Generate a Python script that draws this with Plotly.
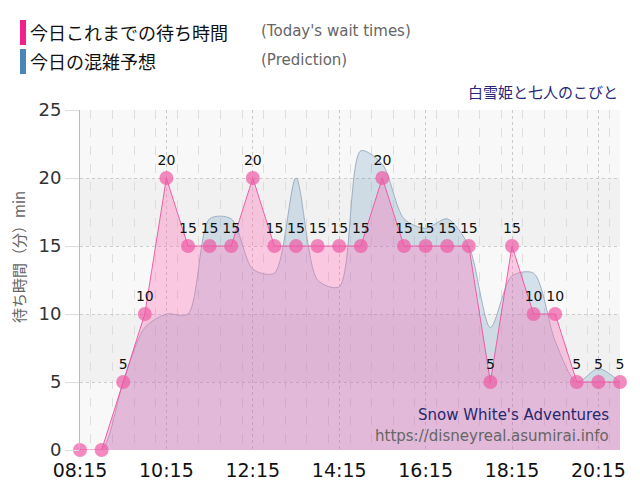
import plotly.graph_objects as go

# 30分ごとの時刻
times = ["08:15", "08:45", "09:15", "09:45", "10:15", "10:45", "11:15", "11:45",
         "12:15", "12:45", "13:15", "13:45", "14:15", "14:45", "15:15", "15:45",
         "16:15", "16:45", "17:15", "17:45", "18:15", "18:45", "19:15", "19:45",
         "20:15", "20:45"]

# 今日これまでの待ち時間
actual = [0, 0, 5, 10, 20, 15, 15, 15, 20, 15, 15, 15, 15, 15, 20, 15,
          15, 15, 15, 5, 15, 10, 10, 5, 5, 5]

# 今日の混雑予想
predict = [0, 0, 5, 9, 10, 10, 17, 17, 13.3, 13, 20, 12.5, 12, 22, 21, 17,
           16.3, 17, 15, 9, 12.8, 13, 8, 5, 6, 5]

x = ["2024-01-01 " + t for t in times]
labels = [str(v) if v else "" for v in actual]

FONT = "DejaVu Sans"
JP = "Noto Sans CJK JP"

fig = go.Figure()

# 予想（スプライン）
fig.add_trace(go.Scatter(
    x=x, y=predict, mode="lines", line=dict(shape="spline", smoothing=0.8,
                                            color="rgba(150,168,190,0.9)", width=1),
    fill="tozeroy", fillcolor="rgba(70,130,180,0.2)", hoverinfo="skip",
))

# 実績
fig.add_trace(go.Scatter(
    x=x, y=actual, mode="lines+markers+text", text=labels,
    textposition="top center", textfont=dict(family=FONT, size=14, color="#111"),
    line=dict(color="rgba(240,80,160,0.9)", width=1),
    marker=dict(size=14, color="rgba(238,90,165,0.7)"),
    fill="tozeroy", fillcolor="rgba(255,105,180,0.33)", cliponaxis=False,
))

# 背景の帯
shapes = []
for lo in (5, 15):
    shapes.append(dict(type="rect", xref="paper", yref="y", x0=0, x1=1, y0=lo, y1=lo + 5,
                       fillcolor="#f1f1f1", line_width=0, layer="below"))

# 凡例（手描き） 画面ピクセル -> paper座標
def px_x(v):
    return (v - 80) / 540

def px_y(v):
    return (450 - v) / 340

for y0, col in ((20, "#f0208c"), (49, "#4a86b8")):
    shapes.append(dict(type="rect", xref="paper", yref="paper",
                       x0=px_x(20), x1=px_x(26), y0=px_y(y0 + 25), y1=px_y(y0),
                       fillcolor=col, line_width=0))

ann = [
    dict(text="今日これまでの待ち時間", x=px_x(28), y=px_y(32), font=dict(family=JP, size=18, color="#111")),
    dict(text="今日の混雑予想", x=px_x(28), y=px_y(61), font=dict(family=JP, size=18, color="#111")),
    dict(text="(Today's wait times)", x=px_x(259), y=px_y(31), font=dict(family=FONT, size=15, color="#666")),
    dict(text="(Prediction)", x=px_x(259), y=px_y(60), font=dict(family=FONT, size=15, color="#666")),
]
for a in ann:
    a.update(xref="paper", yref="paper", xanchor="left", yanchor="middle", showarrow=False)

ann += [
    dict(text="白雪姫と七人のこびと", x=1, y=px_y(91), xref="paper", yref="paper",
         xanchor="right", yanchor="middle", showarrow=False,
         font=dict(family=JP, size=15, color="#27277a")),
    dict(text="Snow White's Adventures", x=px_x(611), y=px_y(415), xref="paper", yref="paper",
         xanchor="right", yanchor="middle", showarrow=False,
         font=dict(family=FONT, size=15, color="#27276e")),
    dict(text="https://disneyreal.asumirai.info", x=px_x(611), y=px_y(436), xref="paper", yref="paper",
         xanchor="right", yanchor="middle", showarrow=False,
         font=dict(family=FONT, size=15, color="#666")),
    dict(text="待ち時間（分）min", x=px_x(18), y=px_y(257), xref="paper", yref="paper",
         xanchor="center", yanchor="middle", showarrow=False, textangle=-90,
         font=dict(family=JP, size=15, color="#666")),
]

# ページ余白(8px)を見込んだサイズ
fig.update_layout(
    width=632, height=492, margin=dict(l=72, r=20, t=102, b=50),
    paper_bgcolor="white", plot_bgcolor="#f8f8f8", showlegend=False,
    shapes=shapes, annotations=ann,
)
fig.update_xaxes(
    type="date", range=["2024-01-01 08:15", "2024-01-01 20:45"],
    tick0="2024-01-01 08:15", dtick=2 * 3600 * 1000, tickformat="%H:%M",
    tickfont=dict(family=FONT, size=19, color="#111"), ticklabelstandoff=7,
    showgrid=True, gridcolor="#c8c8c8", griddash="dot", gridwidth=1,
    minor=dict(dtick=30 * 60 * 1000, showgrid=True, gridcolor="#dddddd", griddash="dash"),
    zeroline=False, showline=False, ticks="",
)
fig.update_yaxes(
    range=[0, 25], dtick=5, tickfont=dict(family=FONT, size=18, color="#333"),
    showgrid=True, gridcolor="#cccccc", griddash="dot", zeroline=False,
    showline=True, linecolor="#bbbbbb", ticks="outside", ticklen=14, tickcolor="#dddddd",
)

fig.write_html("out.html")
